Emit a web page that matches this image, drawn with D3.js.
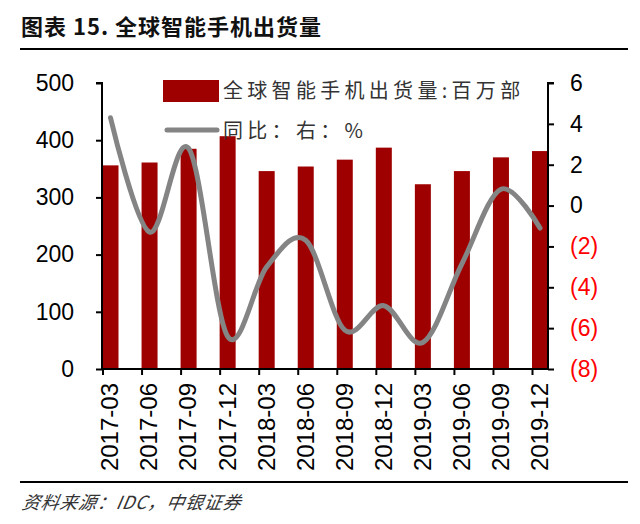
<!DOCTYPE html>
<html>
<head>
<meta charset="utf-8">
<script src="https://cdn.jsdelivr.net/npm/d3@7"></script>
<style>
  body { margin: 0; background: #fff; }
  svg { display: block; }
</style>
</head>
<body>
<svg id="chart" width="640" height="524"></svg>
<script>
// quarters, IDC shipments (million units) and YoY growth (%)
const quarters = ['2017-03', '2017-06', '2017-09', '2017-12', '2018-03', '2018-06',
  '2018-09', '2018-12', '2019-03', '2019-06', '2019-09', '2019-12'];
const shipments = [356, 361, 385, 407, 346, 354, 366, 387, 323, 346, 370, 381];
const yoy = [4.3, -1.3, 2.8, -6.4, -3.0, -1.7, -6.1, -4.9, -6.7, -2.85, 0.8, -1.1];
const leftTicks = [0, 100, 200, 300, 400, 500];
const rightTicks = [-8, -6, -4, -2, 0, 2, 4, 6];

const red = '#9e0000';
const grey = '#848484';
const latin = '"Liberation Sans", Arial, sans-serif';
const cjk = '"Noto Sans CJK SC", sans-serif';

const svg = d3.select('#chart');

// title + rules
svg.append('text')
  .attr('x', 21).attr('y', 35)
  .attr('font-family', cjk).attr('font-weight', 'bold')
  .attr('font-size', 22).attr('letter-spacing', 1)
  .attr('fill', '#111')
  .text('图表 15. 全球智能手机出货量');
svg.append('line')
  .attr('x1', 20).attr('x2', 628).attr('y1', 49).attr('y2', 49)
  .attr('stroke', '#000').attr('stroke-width', 2);
svg.append('line')
  .attr('x1', 20).attr('x2', 628).attr('y1', 482).attr('y2', 482)
  .attr('stroke', '#000').attr('stroke-width', 2);
svg.append('text')
  .attr('x', 22).attr('y', 509)
  .attr('font-family', cjk).attr('font-style', 'italic')
  .attr('font-size', 18).attr('fill', '#333').attr('letter-spacing', 0.8)
  .attr('transform', 'skewX(-10) translate(89,0)')
  .text('资料来源：IDC，中银证券');

const x = d3.scalePoint()
  .domain(quarters)
  .range([102.5, 532]);
const barW = 16;

const y = d3.scaleLinear()
  .domain([0, 500])
  .range([369, 83]);
const y2 = d3.scaleLinear()
  .domain([-8, 6])
  .range([369, 83]);

// bars
svg.append('g')
  .selectAll('rect')
  .data(shipments)
  .join('rect')
    .attr('x', (d, i) => x(quarters[i]))
    .attr('y', d => y(d))
    .attr('width', barW)
    .attr('height', d => y(0) - y(d))
    .attr('fill', red);

// yoy line, smoothed like the spreadsheet original
const line = d3.line()
  .x((d, i) => x(quarters[i]) + barW / 2)
  .y(d => y2(d))
  .curve(d3.curveCardinal.tension(0));
svg.append('path')
  .datum(yoy)
  .attr('d', line)
  .attr('fill', 'none')
  .attr('stroke', grey)
  .attr('stroke-width', 5)
  .attr('stroke-linecap', 'round');

// axes
const gl = svg.append('g')
  .attr('transform', 'translate(102,0)')
  .call(d3.axisLeft(y).tickValues(leftTicks).tickSize(6).tickSizeOuter(6).tickPadding(22));
const gr = svg.append('g')
  .attr('transform', 'translate(548,0)')
  .call(d3.axisRight(y2).tickValues(rightTicks).tickSize(6).tickSizeOuter(6).tickPadding(16)
    .tickFormat(d => d < 0 ? '(' + (-d) + ')' : d));
const gb = svg.append('g')
  .attr('transform', 'translate(0,369)')
  .call(d3.axisBottom(x).tickSize(6).tickSizeOuter(0).tickFormat(d => d));

[gl, gr, gb].forEach(g => {
  g.select('.domain').attr('stroke', '#000').attr('stroke-width', 2);
  g.selectAll('.tick line').attr('stroke', '#000').attr('stroke-width', 2);
  g.selectAll('text').attr('font-family', latin).attr('font-size', 23).attr('fill', '#000');
});
gl.select('.domain').attr('d', 'M-6,83H0V369');
gr.select('.domain').attr('d', 'M6,83H0V369');
gr.selectAll('.tick text').attr('fill', d => d < 0 ? '#ff0000' : '#000');
gb.select('.domain').attr('d', 'M102,0H548');
gb.selectAll('.tick text')
  .attr('font-size', 24)
  .attr('text-anchor', 'end')
  .attr('dy', '0.35em')
  .attr('transform', 'translate(' + (barW / 2 - 1) + ',14) rotate(-90)')
  .attr('x', 0).attr('y', 0);

// legend
const legend = svg.append('g')
  .attr('font-family', cjk).attr('font-size', 20)
  .attr('fill', '#333').attr('letter-spacing', 4.3);
legend.append('rect')
  .attr('x', 163).attr('y', 80).attr('width', 56).attr('height', 22)
  .attr('fill', red);
legend.append('text')
  .attr('x', 223).attr('y', 98)
  .text('全球智能手机出货量:百万部');
legend.append('line')
  .attr('x1', 167).attr('x2', 217).attr('y1', 130).attr('y2', 130)
  .attr('stroke', grey).attr('stroke-width', 5).attr('stroke-linecap', 'round');
legend.append('text')
  .attr('x', 223).attr('y', 138)
  .text('同比：右：%');
</script>
</body>
</html>
